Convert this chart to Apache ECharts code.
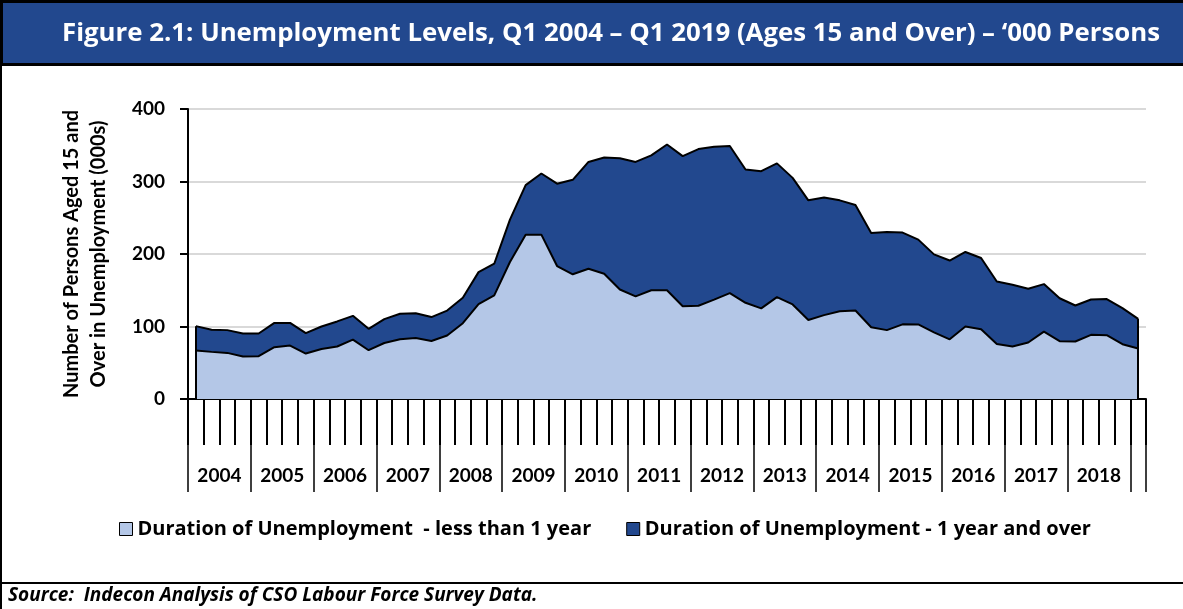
<!DOCTYPE html>
<html>
<head>
<meta charset="utf-8">
<script src="https://cdn.jsdelivr.net/npm/echarts@6/dist/echarts.min.js"></script>
<style>
  html, body { margin: 0; padding: 0; background: #fff; }
  #chart { width: 1183px; height: 609px; }
</style>
</head>
<body>
<div id="chart"></div>
<script>
// Year group labels under the axis
const years = ['2004', '2005', '2006', '2007', '2008', '2009', '2010', '2011',
               '2012', '2013', '2014', '2015', '2016', '2017', '2018'];

// Quarterly categories, Q1 2004 to Q1 2019
const quarters = [];
for (let y = 2004; y <= 2019; y++) {
  for (let q = 1; q <= 4; q++) {
    if (y === 2019 && q > 1) break;
    quarters.push(y + ' Q' + q);
  }
}

// Unemployed less than 1 year ('000)
const shortTerm = [
  66.8, 65.0, 63.6, 58.5,
  59.0, 71.4, 73.7, 62.7,
  69.0, 72.4, 82.0, 67.3,
  77.2, 82.5, 84.0, 80.0,
  87.6, 104.6, 131.0, 143.0,
  189.0, 226.7, 226.7, 183.4,
  172.0, 179.7, 172.8, 151.0,
  141.5, 150.0, 150.0, 128.0,
  128.6, 137.0, 146.0, 132.7,
  125.0, 140.5, 130.4, 109.0,
  115.7, 121.0, 122.0, 99.0,
  95.0, 103.0, 102.8, 92.0,
  82.3, 100.0, 96.3, 76.0,
  72.4, 78.0, 93.0, 79.7,
  79.3, 88.5, 88.0, 75.6,
  69.6
];

// Unemployed 1 year and over ('000)
const longTerm = [
  33.7, 30.4, 31.4, 31.8,
  31.3, 33.6, 31.3, 28.1,
  31.0, 34.6, 32.7, 29.5,
  33.0, 35.0, 34.4, 33.0,
  34.4, 35.0, 44.0, 43.6,
  58.5, 68.3, 84.3, 113.6,
  130.3, 147.3, 160.2, 181.0,
  185.5, 186.0, 201.0, 207.0,
  216.1, 211.0, 203.0, 183.9,
  189.3, 184.5, 174.6, 165.0,
  162.2, 153.0, 145.7, 130.0,
  135.4, 126.5, 117.0, 107.5,
  108.7, 102.8, 98.2, 86.0,
  85.2, 74.0, 65.5, 59.3,
  49.7, 48.8, 49.8, 49.7,
  41.0
];

const seriesNames = [
  'Duration of Unemployment  - less than 1 year',
  'Duration of Unemployment - 1 year and over'
];

const LIGHT = '#b4c7e7';
const DARK = '#22488e';
const FONT = 'Lato, "Open Sans", sans-serif';
const WIDE_FONT = '"Open Sans", Lato, sans-serif';

// Half-quarter steps for the year-group axis: boundaries every 8 steps, labels in the middle
const halfSteps = Array.from({ length: quarters.length * 2 + 1 }, (_, i) => String(i));

const lastIdx = quarters.length - 1;
const firstTotal = shortTerm[0] + longTerm[0];
const lastTotal = shortTerm[lastIdx] + longTerm[lastIdx];

const chart = echarts.init(document.getElementById('chart'), null, { renderer: 'canvas' });

chart.setOption({
  animation: false,
  backgroundColor: '#fff',
  graphic: [
    { type: 'rect', z: 0, shape: { x: 0, y: 0, width: 1183, height: 66 }, style: { fill: '#000' } },
    { type: 'rect', z: 1, shape: { x: 3, y: 3, width: 1180, height: 60 }, style: { fill: DARK } },
    { type: 'rect', z: 0, shape: { x: 0, y: 0, width: 2, height: 609 }, style: { fill: '#000' } },
    { type: 'rect', z: 0, shape: { x: 0, y: 582, width: 1183, height: 2 }, style: { fill: '#000' } }
  ],
  title: [
    {
      text: 'Figure 2.1: Unemployment Levels, Q1 2004 \u2013 Q1 2019 (Ages 15 and Over) \u2013 \u2018000 Persons',
      left: 62, top: 21, padding: 0,
      textStyle: { color: '#fff', fontFamily: WIDE_FONT, fontWeight: 'bold', fontSize: 25.8 }
    },
    {
      text: 'Source:  Indecon Analysis of CSO Labour Force Survey Data.',
      left: 8, top: 586, padding: 0,
      textStyle: { color: '#000', fontFamily: WIDE_FONT, fontWeight: 'bold', fontStyle: 'italic', fontSize: 19 }
    }
  ],
  legend: {
    left: 114, top: 514,
    icon: 'rect', itemWidth: 13, itemHeight: 13, itemGap: 35,
    textStyle: { color: '#000', fontFamily: WIDE_FONT, fontWeight: 'bold', fontSize: 20 },
    data: [
      { name: seriesNames[0], itemStyle: { color: LIGHT, borderColor: '#000', borderWidth: 1 } },
      { name: seriesNames[1], itemStyle: { color: DARK, borderColor: '#000', borderWidth: 1 } }
    ]
  },
  grid: { left: 188, right: 37, top: 109, bottom: 210, containLabel: false },
  xAxis: [
    {
      type: 'category',
      data: quarters,
      boundaryGap: true,
      axisLine: { lineStyle: { color: '#000', width: 2 } },
      axisTick: { show: true, interval: 0, length: 46, lineStyle: { color: '#000', width: 2 } },
      axisLabel: { show: false },
      splitLine: { show: false }
    },
    {
      type: 'category',
      data: halfSteps,
      boundaryGap: false,
      position: 'bottom',
      offset: 0,
      axisLine: { show: false },
      axisTick: {
        show: true,
        interval: (i) => i % 8 === 0 || i === halfSteps.length - 1,
        length: 93,
        lineStyle: { color: '#000', width: 1.5 }
      },
      axisLabel: {
        interval: (i) => i % 8 === 4,
        formatter: (v, i) => years[Math.floor(i / 8)] || '',
        margin: 67,
        color: '#000', fontFamily: FONT, fontWeight: 'bold', fontSize: 19
      },
      splitLine: { show: false }
    }
  ],
  yAxis: {
    type: 'value',
    min: 0, max: 400, interval: 100,
    axisLine: { show: true, lineStyle: { color: '#000', width: 2 } },
    axisTick: { show: true, length: 8, lineStyle: { color: '#000', width: 2 } },
    splitLine: { lineStyle: { color: '#d9d9d9', width: 2 } },
    axisLabel: { color: '#000', fontFamily: FONT, fontWeight: 'bold', fontSize: 19, margin: 23 },
    name: 'Number of Persons Aged 15 and\nOver in Unemployment (000s)',
    nameLocation: 'middle',
    nameRotate: 90,
    nameGap: 76,
    nameTextStyle: { color: '#000', fontFamily: FONT, fontWeight: 'bold', fontSize: 20, lineHeight: 27, align: 'center' }
  },
  series: [
    {
      name: seriesNames[0],
      type: 'line',
      stack: 'total',
      data: shortTerm,
      symbol: 'none',
      z: 3,
      itemStyle: { color: LIGHT },
      lineStyle: { color: '#000', width: 2 },
      areaStyle: { color: LIGHT, opacity: 1 }
    },
    {
      name: seriesNames[1],
      type: 'line',
      stack: 'total',
      data: longTerm,
      symbol: 'none',
      z: 2,
      itemStyle: { color: DARK },
      lineStyle: { color: '#000', width: 2 },
      areaStyle: { color: DARK, opacity: 1 },
      markLine: {
        silent: true,
        symbol: ['none', 'none'],
        label: { show: false },
        lineStyle: { color: '#000', width: 2, type: 'solid' },
        data: [
          [{ coord: [quarters[0], 0] }, { coord: [quarters[0], firstTotal] }],
          [{ coord: [quarters[lastIdx], 0] }, { coord: [quarters[lastIdx], lastTotal] }]
        ]
      }
    }
  ]
});
</script>
</body>
</html>
